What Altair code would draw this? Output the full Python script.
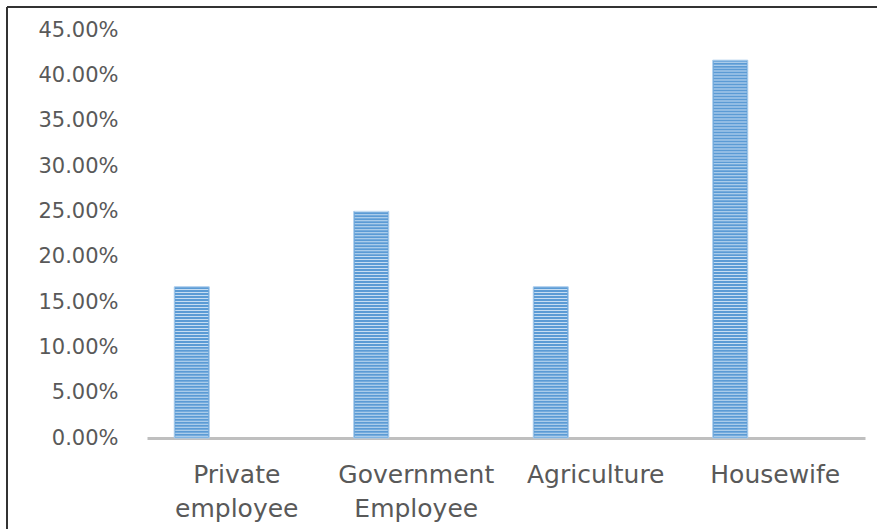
import altair as alt
import pandas as pd

categories = ["Private employee", "Government Employee", "Agriculture", "Housewife"]
values = [0.1667, 0.25, 0.1667, 0.4167]
y_ticks = [0, 0.05, 0.10, 0.15, 0.20, 0.25, 0.30, 0.35, 0.40, 0.45]

df = pd.DataFrame({"cat": categories, "value": values})

FONT = "DejaVu Sans"
TXT = "#595959"

x_enc = alt.X(
    "cat:N",
    sort=categories,
    scale=alt.Scale(paddingInner=0, paddingOuter=0),
    axis=alt.Axis(
        title=None,
        labelAngle=0,
        ticks=False,
        domainColor="#BFBFBF",
        domainWidth=3,
        labelFont=FONT,
        labelFontSize=25,
        labelColor=TXT,
        labelPadding=36,
        labelLineHeight=34,
        labelBaseline="middle",
        labelExpr="split(datum.label, ' ')",
    ),
)
y_scale = alt.Scale(domain=[0, 0.45], nice=False)
y_axis = alt.Axis(
    title=None,
    values=y_ticks,
    format=".2%",
    grid=False,
    ticks=False,
    domain=False,
    labelFont=FONT,
    labelFontSize=21,
    labelColor=TXT,
    labelPadding=29,
)

base = alt.Chart(df)

bars = base.mark_bar(
    width=35, xOffset=-45, color="#5B9BD5", stroke="#A9CCEC", strokeWidth=1
).encode(
    x=x_enc,
    y=alt.Y("value:Q", scale=y_scale, axis=y_axis),
)

stripes = (
    base.transform_calculate(s="sequence(0.0015, datum.value - 0.0008, 0.0033)")
    .transform_flatten(["s"])
    .transform_calculate(s2="datum.s + 0.0011")
    .mark_bar(width=33, xOffset=-45, color="#D2E4F5", opacity=0.9)
    .encode(x=alt.X("cat:N", sort=categories), y=alt.Y("s:Q", scale=y_scale), y2="s2:Q")
)

frame_top = alt.Chart(df).mark_rule(color="#333333", strokeWidth=2).encode(
    x=alt.value(-140), x2=alt.value(730), y=alt.value(-23)
)
frame_left = alt.Chart(df).mark_rule(color="#333333", strokeWidth=2).encode(
    x=alt.value(-140), y=alt.value(-23), y2=alt.value(499)
)

chart = (
    alt.layer(bars, stripes, frame_top, frame_left)
    .properties(
        width=718,
        height=408,
        padding={"left": 147, "top": 30, "right": 12, "bottom": 91},
        autosize=alt.AutoSizeParams(type="none"),
        background="white",
    )
    .configure_view(stroke=None)
)

chart.save("out.html", embed_options={"renderer": "svg", "actions": False})
